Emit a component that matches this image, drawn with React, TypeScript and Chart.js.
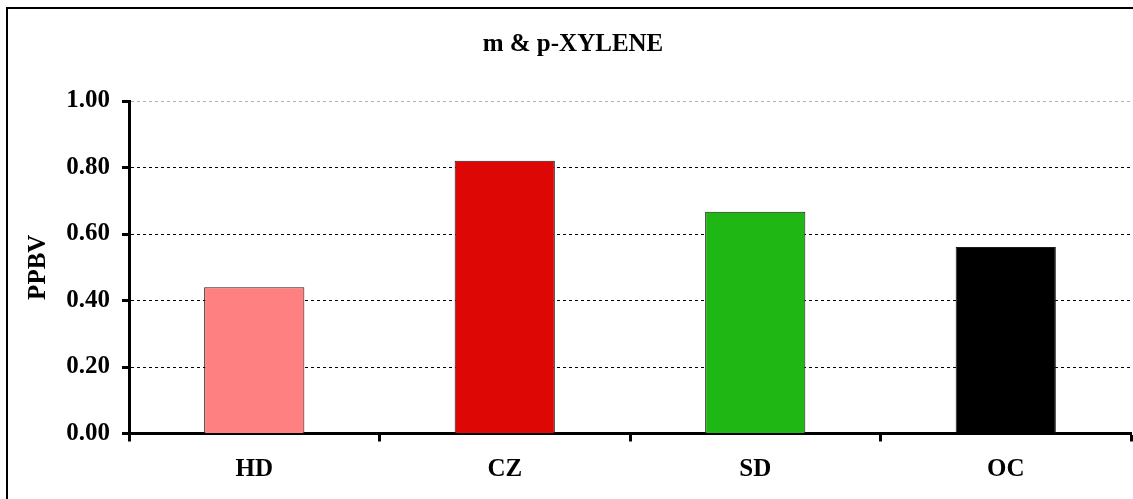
import React, { useEffect, useRef } from "react";
import { Chart, registerables } from "chart.js";

Chart.register(...registerables);

const categories = ["HD", "CZ", "SD", "OC"];
const values = [0.44, 0.82, 0.667, 0.561];
const barColors = ["#FF8080", "#DD0806", "#1FB714", "#000000"];
const chartTitle = "m & p-XYLENE";
const yAxisTitle = "PPBV";
const yMin = 0;
const yMax = 1;
const yStep = 0.2;

const FONT = "'Liberation Serif', 'Times New Roman', serif";
const FS = 25;

const framePlugin = {
  id: "frame",
  afterDraw(chart: any) {
    const ctx = chart.ctx;
    ctx.save();
    ctx.strokeStyle = "#000";
    ctx.lineWidth = 2;
    ctx.beginPath();
    ctx.moveTo(7, 499);
    ctx.lineTo(7, 8);
    ctx.lineTo(1133, 8);
    ctx.stroke();
    ctx.fillStyle = "#000";
    ctx.font = `bold ${FS}px ${FONT}`;
    ctx.textAlign = "center";
    ctx.textBaseline = "middle";
    ctx.fillText(chartTitle, 573, 45);
    ctx.restore();
  },
};

export default function App() {
  const ref = useRef<HTMLCanvasElement | null>(null);
  useEffect(() => {
    if (!ref.current) return;
    const chart = new Chart(ref.current, {
      type: "bar",
      data: {
        labels: categories,
        datasets: [
          {
            data: values,
            backgroundColor: barColors,
            borderColor: "#1a1a1a",
            borderWidth: 1,
            barPercentage: 0.4,
            categoryPercentage: 1,
          },
        ],
      },
      options: {
        animation: false,
        responsive: false,
        devicePixelRatio: 1,
        layout: { padding: { top: 101, left: 0, right: 2, bottom: 0 } },
        plugins: { legend: { display: false }, tooltip: { enabled: false }, title: { display: false } },
        scales: {
          x: {
            afterFit: (s: any) => {
              s.height = 65.5;
            },
            grid: {
              offset: true,
              drawOnChartArea: false,
              drawTicks: true,
              tickLength: 8,
              tickWidth: 3,
              tickColor: "#000",
            },
            border: { display: true, color: "#000", width: 3 },
            ticks: {
              color: "#000",
              font: { family: FONT, size: FS, weight: "bold" },
              padding: 13,
              maxRotation: 0,
            },
          },
          y: {
            min: yMin,
            max: yMax,
            afterFit: (s: any) => {
              s.width = 129;
            },
            grid: {
              color: (c: any) => (c.tick && c.tick.value >= 0.999 ? "#b0b0b0" : "#000"),
              lineWidth: 1,
              drawTicks: true,
              tickLength: 7,
              tickWidth: 3,
              tickColor: "#000",
            },
            border: { display: true, color: "#000", width: 3, dash: [3, 3] },
            ticks: {
              stepSize: yStep,
              color: "#000",
              font: { family: FONT, size: FS, weight: "bold" },
              padding: 12,
              callback: (v: any) => Number(v).toFixed(2),
            },
            title: {
              display: true,
              text: yAxisTitle,
              color: "#000",
              font: { family: FONT, size: FS, weight: "bold" },
              padding: { top: 24, bottom: 0 },
            },
          },
        },
      },
      plugins: [framePlugin],
    });
    return () => chart.destroy();
  }, []);
  return (
    <div style={{ position: "absolute", left: 0, top: 0, width: 1133, height: 499, background: "#fff" }}>
      <canvas ref={ref} width={1133} height={499} style={{ display: "block" }} />
    </div>
  );
}
